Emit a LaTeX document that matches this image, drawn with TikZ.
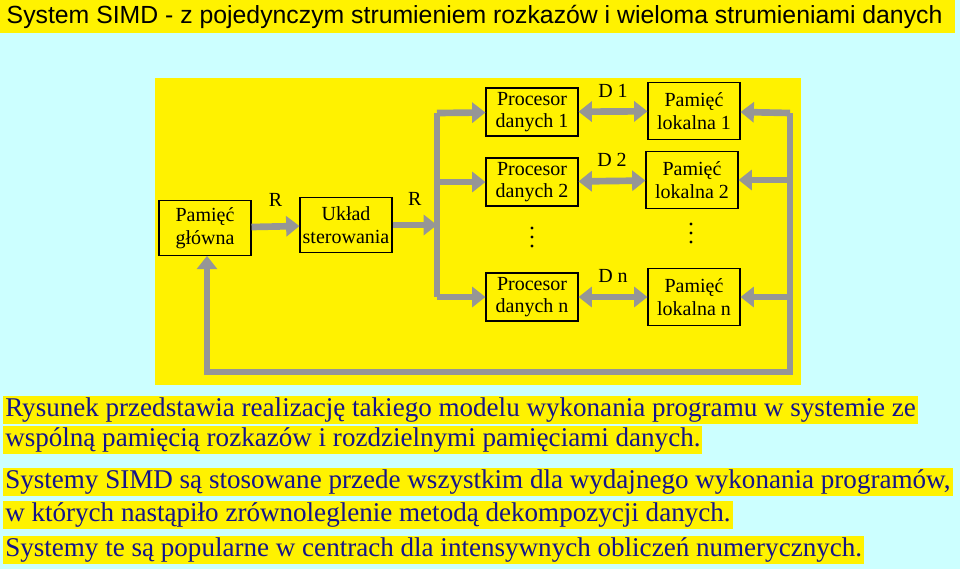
\documentclass[tikz,border=0pt]{standalone}
\usepackage{fontspec}
\setmainfont{Liberation Serif}
\newfontfamily\tytulfont{Liberation Sans}
\usetikzlibrary{arrows.meta}
\definecolor{tlo}{RGB}{204,255,255}
\definecolor{granat}{RGB}{20,20,140}
\definecolor{szary}{RGB}{150,150,150}
\begin{document}
\begin{tikzpicture}[x=0.75pt,y=-0.75pt,>={Triangle[width=15pt,length=10pt]}
        ,blok/.style = {draw=black,thick,fill=yellow,minimum width=69pt,minimum height=41pt,
                        align=center,font=\fontsize{15}{17}\selectfont,inner sep=1pt}
        ,szyna/.style = {draw=szary,line width=5pt}
        ,etykieta/.style = {font=\fontsize{15}{17}\selectfont}
        ,kropka/.style = {fill=black,circle,inner sep=0pt,minimum size=2.5pt}
        ,linia/.style = {fill=yellow,text=granat,anchor=west,inner sep=1.5pt,
                         font=\fontsize{20.3}{22}\selectfont}
      ]
      \fill[tlo] (0,0) rectangle (960,569);
      \fill[yellow] (0,0) rectangle (955,33);
      \node[anchor=west,font=\tytulfont\fontsize{18.6}{20}\selectfont](tytul) at (2,17)
        {System SIMD - z pojedynczym strumieniem rozkazów i wieloma strumieniami danych};
      \fill[yellow] (155,78) rectangle (801,385);

      \node[blok](pg) at (205,228) {Pamięć\\główna};
      \node[blok](us) at (346,225) {Układ\\sterowania};
      \node[blok,minimum height=36pt](pd1) at (532,112) {Procesor\\danych 1};
      \node[blok,minimum height=36pt](pd2) at (532,182) {Procesor\\danych 2};
      \node[blok,minimum height=36pt](pdn) at (532,297) {Procesor\\danych n};
      \node[blok,minimum height=43pt](pl1) at (694,111) {Pamięć\\lokalna 1};
      \node[blok,minimum height=43pt](pl2) at (692,180) {Pamięć\\lokalna 2};
      \node[blok,minimum height=43pt](pln) at (694,297) {Pamięć\\lokalna n};
      \foreach \y in {228,237,246} {
        \node[kropka] at (532,\y) {};
        \node[kropka] at (691,\y-4) {};
      }

      \coordinate(sg) at (437,113);
      \coordinate(sd) at (437,297);
      \coordinate(rg) at (790,113);
      \coordinate(rd) at (790,372);
      \coordinate(ld) at (207,372);

      \draw[szyna,->] (pg) -- (us) node[midway,above=9pt,etykieta,text=black]{R};
      \draw[szyna,->] (us.east) -- (us.east -| sg) node[midway,above=9pt,etykieta]{R};
      \draw[szyna] (sg) -- (sd);
      \draw[szyna,->] (sg) -- (pd1);
      \draw[szyna,->] (pd2 -| sg) -- (pd2);
      \draw[szyna,->] (sd) -- (pdn);
      \draw[szyna,<->] (pd1) -- (pl1) node[midway,above=5pt,etykieta]{D 1};
      \draw[szyna,<->] (pd2) -- (pl2) node[midway,above=5pt,etykieta]{D 2};
      \draw[szyna,<->] (pdn) -- (pln) node[midway,above=5pt,etykieta]{D n};
      \draw[szyna,->] (rg) -- (pl1);
      \draw[szyna,->] (pl2 -| rg) -- (pl2);
      \draw[szyna,->] (pln -| rg) -- (pln);
      \draw[szyna,->] (rg) -- (rd) -- (ld) -- (pg.south -| ld);

      \node[linia](t1) at (3,410) {Rysunek przedstawia realizację takiego modelu wykonania programu w systemie ze};
      \node[linia](t2) at (3,440) {wspólną pamięcią rozkazów i rozdzielnymi pamięciami danych.};
      \node[linia](t3) at (3,482) {Systemy SIMD są stosowane przede wszystkim dla wydajnego wykonania programów,};
      \node[linia](t4) at (3,515) {w których nastąpiło zrównoleglenie metodą dekompozycji danych.};
      \node[linia](t5) at (3,550) {Systemy te są popularne w centrach dla intensywnych obliczeń numerycznych.};
    \end{tikzpicture}
\end{document}
